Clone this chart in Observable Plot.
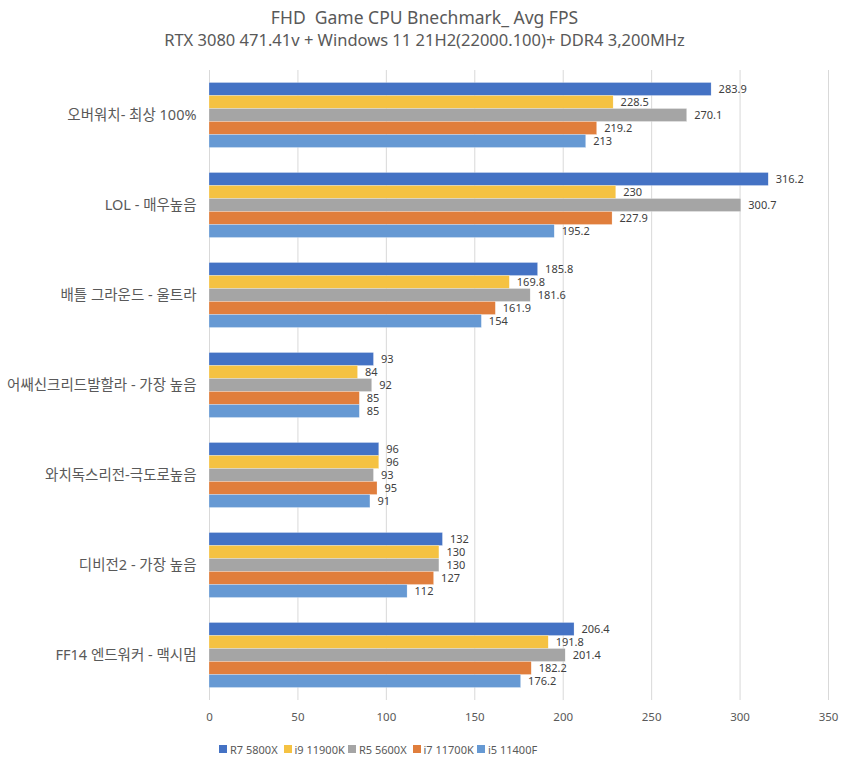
<!DOCTYPE html>
<html>
<head>
<meta charset="utf-8">
<script src="https://cdn.jsdelivr.net/npm/d3@7"></script>
<script src="https://cdn.jsdelivr.net/npm/@observablehq/plot@0.6"></script>
<style>
  body { margin: 0; background: #fff; font-family: "Noto Sans", "Noto Sans CJK KR", sans-serif; }
  #wrap { width: 849px; height: 764px; position: relative; }
  .title { text-align: center; color: #595959; font-size: 17.5px; line-height: 22px; padding-top: 6px; }
  .subtitle { text-align: center; color: #595959; font-size: 16.5px; line-height: 23px; }
  #legend { display: flex; padding-left: 219px; margin-top: 9px; height: 18px; align-items: center; }
  .item { display: flex; align-items: center; width: 64.5px; font-size: 11px; color: #595959; white-space: nowrap; }
  .sw { width: 8px; height: 8px; margin-right: 3px; flex: none; }
</style>
</head>
<body>
<div id="wrap">
  <div class="title">FHD&nbsp; Game CPU Bnechmark_ Avg FPS</div>
  <div class="subtitle">RTX 3080 471.41v + Windows 11 21H2(22000.100)+ DDR4 3,200MHz</div>
  <div id="chart"></div>
  <div id="legend"></div>
</div>
<script>
const categories = [
  "오버워치- 최상 100%",
  "LOL - 매우높음",
  "배틀 그라운드 - 울트라",
  "어쌔신크리드발할라 - 가장 높음",
  "와치독스리전-극도로높음",
  "디비전2 - 가장 높음",
  "FF14 엔드워커 - 맥시멈"
];
const series = ["R7 5800X", "i9 11900K", "R5 5600X", "i7 11700K", "i5 11400F"];
const colors = ["#4472C4", "#F5C242", "#A5A5A5", "#E07E3C", "#6699D3"];
const r7_5800x  = [283.9, 316.2, 185.8, 93, 96, 132, 206.4];
const i9_11900k = [228.5, 230, 169.8, 84, 96, 130, 191.8];
const r5_5600x  = [270.1, 300.7, 181.6, 92, 93, 130, 201.4];
const i7_11700k = [219.2, 227.9, 161.9, 85, 95, 127, 182.2];
const i5_11400f = [213, 195.2, 154, 85, 91, 112, 176.2];
const xTicks = [0, 50, 100, 150, 200, 250, 300, 350];

const seriesValues = [r7_5800x, i9_11900k, r5_5600x, i7_11700k, i5_11400f];
const rows = [];
categories.forEach((c, i) => {
  series.forEach((s, j) => rows.push({cat: c, series: s, value: seriesValues[j][i]}));
});

const chart = Plot.plot({
  width: 849,
  height: 680,
  marginLeft: 209,
  marginRight: 21,
  marginTop: 17.5,
  marginBottom: 30,
  style: {fontFamily: '"Noto Sans", "Noto Sans CJK KR", sans-serif', background: "#fff"},
  facet: {data: rows, y: "cat"},
  fy: {domain: categories, padding: 0, axis: "left", label: null, tickSize: 0, tickPadding: 13},
  y: {domain: series, paddingInner: 0, paddingOuter: 0.909, axis: null},
  x: {domain: [0, 350], ticks: xTicks, tickSize: 0, tickPadding: 12, label: null},
  color: {domain: series, range: colors},
  marks: [
    Plot.ruleX(xTicks, {stroke: "#d9d9d9", strokeWidth: 1}),
    Plot.barX(rows, {y: "series", x: "value", fill: "series", stroke: "#ffffff", strokeWidth: 0.4, strokeOpacity: 0.6}),
    Plot.text(rows, {y: "series", x: "value", text: d => String(d.value), dx: 7, textAnchor: "start", fill: "#404040", fontSize: 11})
  ]
});
chart.querySelectorAll("g[aria-label='x-axis'] text, g[aria-label='x-axis tick label'] text").forEach(t => { t.setAttribute("fill", "#595959"); t.style.fontSize = "11.5px"; });
chart.querySelectorAll("g[aria-label='fy-axis'] text, g[aria-label='fy-axis tick label'] text").forEach(t => { t.setAttribute("fill", "#595959"); t.style.fontSize = "14.5px"; });
document.getElementById("chart").appendChild(chart);

const legend = document.getElementById("legend");
series.forEach((s, i) => {
  const it = document.createElement("div");
  it.className = "item";
  const sw = document.createElement("span");
  sw.className = "sw";
  sw.style.background = colors[i];
  const tx = document.createElement("span");
  tx.textContent = s;
  it.appendChild(sw); it.appendChild(tx);
  legend.appendChild(it);
});
</script>
</body>
</html>
